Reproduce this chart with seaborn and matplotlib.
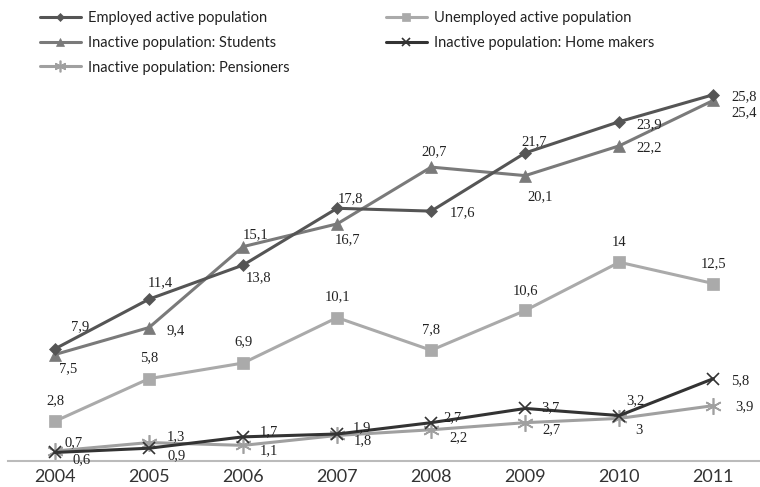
import matplotlib
matplotlib.use("Agg")
import matplotlib.pyplot as plt
import seaborn as sns
import numpy as np

# Population shares by year (%)
years = ["2004", "2005", "2006", "2007", "2008", "2009", "2010", "2011"]
employed = [7.9, 11.4, 13.8, 17.8, 17.6, 21.7, 23.9, 25.8]
unemployed = [2.8, 5.8, 6.9, 10.1, 7.8, 10.6, 14, 12.5]
students = [7.5, 9.4, 15.1, 16.7, 20.7, 20.1, 22.2, 25.4]
home_makers = [0.6, 0.9, 1.7, 1.9, 2.7, 3.7, 3.2, 5.8]
pensioners = [0.7, 1.3, 1.1, 1.8, 2.2, 2.7, 3.0, 3.9]

names = [
    "Employed active population",
    "Unemployed active population",
    "Inactive population: Students",
    "Inactive population: Home makers",
    "Inactive population: Pensioners",
]
series = [employed, unemployed, students, home_makers, pensioners]

# Drawing styles per series
colors = ["#555555", "#aaaaaa", "#7a7a7a", "#333333", "#a0a0a0"]
markers = ["D", "s", "^", "x", (6, 2, 0)]
msizes = [6, 9, 9, 9, 12]
zorders = [5, 3, 4, 4, 3]

# Label offsets in pixels (dx, dy) for each value label
offsets = [
    [(25, 22), (11, 16), (15, -13), (13, 10), (31, -2), (9, 11), (30, -3), (31, -2)],
    [(0, 21), (0, 21), (0, 21), (0, 21), (0, 21), (0, 20), (0, 20), (0, 20)],
    [(13, -14), (27, -3), (12, 12), (10, -16), (3, 15), (15, -21), (30, -2), (31, -12)],
    [(27, -7), (28, -7), (26, 5), (25, 6), (21, 5), (25, 1), (16, 15), (27, -2)],
    [(19, 8), (27, 6), (26, -5), (26, -5), (27, -8), (26, -7), (20, -12), (31, -1)],
]

sns.set_theme(style="white")
plt.rcParams["font.family"] = ["Lato", "DejaVu Sans"]

fig = plt.figure(figsize=(7.6, 4.87), dpi=100)
ax = fig.add_axes([0.0105, 0.0534, 0.99, 0.8746])

x = np.arange(len(years))
for name, vals, c, m, ms, z in zip(names, series, colors, markers, msizes, zorders):
    thin = m == "x" or isinstance(m, tuple)
    sns.lineplot(x=x, y=vals, ax=ax, color=c, marker=m, markersize=ms,
                 markeredgecolor=c, markeredgewidth=1.2 if thin else 0.5,
                 linewidth=2.2, label=name, zorder=z)

for vals, offs in zip(series, offsets):
    for xi, v, (dx, dy) in zip(x, vals, offs):
        txt = f"{v:g}".replace(".", ",")
        ax.annotate(txt, (xi, v), xytext=(dx, dy), textcoords="offset pixels",
                    ha="center", va="center", fontsize=10.5, color="#222222",
                    family=["Liberation Serif", "DejaVu Serif"], zorder=10)

ax.set_xlim(-0.5, len(years) - 0.5)
ax.set_ylim(0, 30)
ax.set_xticks(x)
ax.set_xticklabels(years, fontsize=13, color="#333333")
ax.set_yticks([])
ax.tick_params(axis="x", length=0, pad=6)
for s in ["top", "right", "left"]:
    ax.spines[s].set_visible(False)
ax.spines["bottom"].set_color("#bbbbbb")
ax.spines["bottom"].set_linewidth(1.5)

# Legend: two columns above the plot
h, l = ax.get_legend_handles_labels()
order = [0, 2, 4, 1, 3]
leg = fig.legend([h[i] for i in order], [l[i] for i in order], ncol=2,
                 loc="upper left", bbox_to_anchor=(0.035, 1.005), frameon=False,
                 fontsize=10.5, handlelength=2.8, handletextpad=0.5,
                 labelspacing=0.75, columnspacing=6.6, markerscale=0.7)
for t in leg.get_texts():
    t.set_color("#222222")
ax.get_legend().remove()

fig.savefig("out.png", dpi=100)
